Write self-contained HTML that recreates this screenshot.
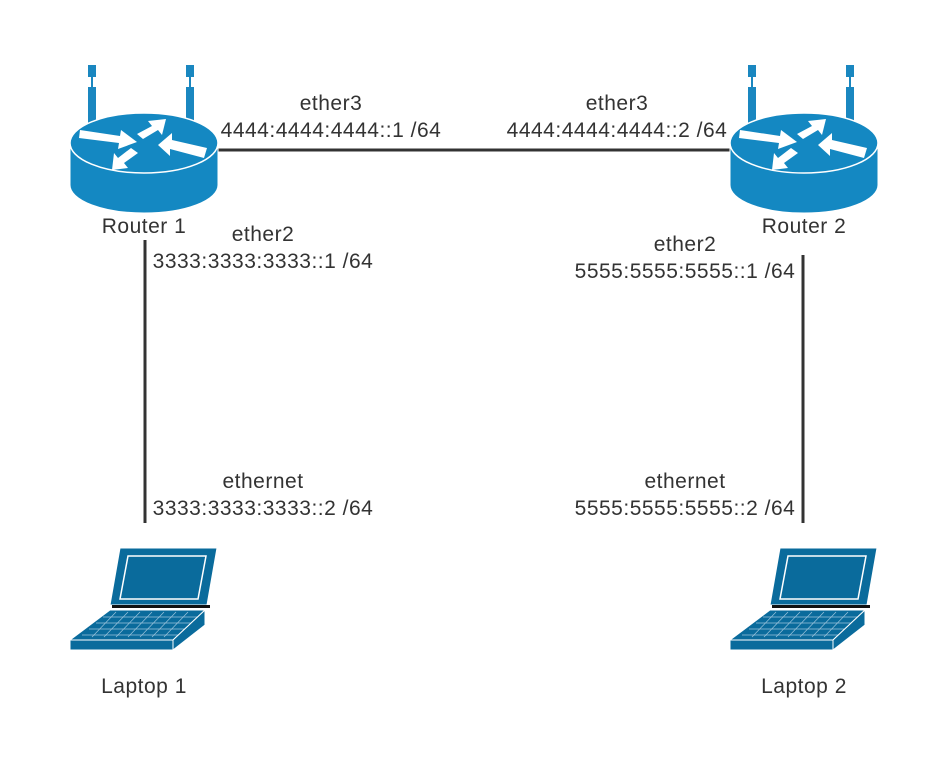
<!DOCTYPE html>
<html><head><meta charset="utf-8"><style>
html,body{margin:0;padding:0;background:#fff;}
svg text{font-family:"Liberation Sans",sans-serif;font-size:21px;letter-spacing:0.5px;fill:#333;}
</style></head><body>
<svg width="948" height="755" viewBox="0 0 948 755" xmlns="http://www.w3.org/2000/svg">
<defs>
<g id="router">
  <rect x="18" y="5" width="8" height="12" fill="#1a87c0"/>
  <rect x="21" y="17" width="2" height="10" fill="#1a87c0"/>
  <rect x="18" y="27" width="8" height="40" fill="#1a87c0"/>
  <rect x="116" y="5" width="8" height="12" fill="#1a87c0"/>
  <rect x="119" y="17" width="2" height="10" fill="#1a87c0"/>
  <rect x="116" y="27" width="8" height="40" fill="#1a87c0"/>
  <path d="M0,83 L0,125 A74,28 0 0 0 148,125 L148,83 Z" fill="#1488c2" stroke="#fff" stroke-width="1"/>
  <ellipse cx="74" cy="83" rx="74" ry="30" fill="#1488c2" stroke="#fff" stroke-width="1.5"/>
  <g fill="#fff">
    <polygon points="10,70 50,76 51,70 67,82 48,89 49,83 9,78"/>
    <polygon points="88,85 102,73 102,80 137,88 134,98 100,89 100,96"/>
    <polygon points="96,59 78,61 82,66 67,74 73,79 88,70 92,75"/>
    <polygon points="42,110 58,108 54,103 68,93 61,88 48,98 44,93"/>
  </g>
</g>
<g id="laptop">
  <polygon points="50,1 147,1 137,58 40,58" fill="#0a6b9c" stroke="#fff" stroke-width="1"/>
  <polygon points="58,9 136,9 128,52 50,52" fill="#0a6b9c" stroke="#fff" stroke-width="1.5"/>
  <rect x="42" y="58" width="98" height="3" fill="#111"/>
  <polygon points="40,63 135,63 103,93 0,93" fill="#0a6b9c" stroke="#fff" stroke-width="1"/>
  <g stroke="#9cc4dc" stroke-width="0.7">
    <line x1="33" y1="70" x2="128" y2="70"/><line x1="26" y1="76" x2="122" y2="76"/><line x1="19" y1="82" x2="116" y2="82"/><line x1="12" y1="88" x2="110" y2="88"/>
    <line x1="46" y1="65" x2="22" y2="90"/><line x1="58" y1="65" x2="34" y2="90"/><line x1="70" y1="65" x2="46" y2="90"/><line x1="82" y1="65" x2="58" y2="90"/><line x1="94" y1="65" x2="70" y2="90"/><line x1="106" y1="65" x2="82" y2="90"/><line x1="118" y1="65" x2="94" y2="90"/>
  </g>
  <polygon points="0,93 103,93 103,103 0,103" fill="#0a6b9c" stroke="#fff" stroke-width="1"/>
  <polygon points="103,93 135,63 135,78 103,103" fill="#0a6b9c" stroke="#fff" stroke-width="1"/>
</g>
</defs>
<g stroke="#333" stroke-width="3">
  <line x1="218" y1="150" x2="730" y2="150"/>
  <line x1="145" y1="240" x2="145" y2="523"/>
  <line x1="803" y1="255" x2="803" y2="523"/>
</g>
<use href="#router" x="70" y="60"/>
<use href="#router" x="730" y="60"/>
<use href="#laptop" x="70" y="547"/>
<use href="#laptop" x="730" y="547"/>
<text x="144" y="233" text-anchor="middle">Router 1</text>
<text x="804" y="233" text-anchor="middle">Router 2</text>
<text x="144" y="693" text-anchor="middle">Laptop 1</text>
<text x="804" y="693" text-anchor="middle">Laptop 2</text>
<text x="331" y="110" text-anchor="middle">ether3</text>
<text x="331" y="137" text-anchor="middle">4444:4444:4444::1 /64</text>
<text x="617" y="110" text-anchor="middle">ether3</text>
<text x="617" y="137" text-anchor="middle">4444:4444:4444::2 /64</text>
<text x="263" y="241" text-anchor="middle">ether2</text>
<text x="263" y="268" text-anchor="middle">3333:3333:3333::1 /64</text>
<text x="685" y="251" text-anchor="middle">ether2</text>
<text x="685" y="278" text-anchor="middle">5555:5555:5555::1 /64</text>
<text x="263" y="488" text-anchor="middle">ethernet</text>
<text x="263" y="515" text-anchor="middle">3333:3333:3333::2 /64</text>
<text x="685" y="488" text-anchor="middle">ethernet</text>
<text x="685" y="515" text-anchor="middle">5555:5555:5555::2 /64</text>
</svg>
</body></html>
